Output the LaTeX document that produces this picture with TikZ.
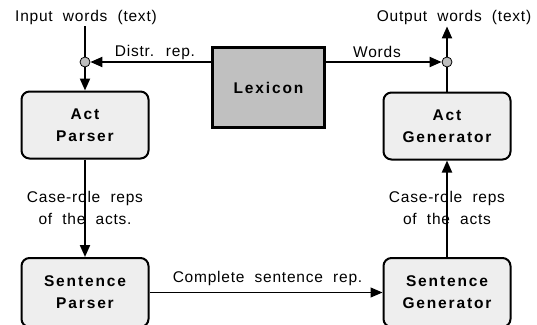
\documentclass[tikz,border=0pt]{standalone}
\usepackage{fontspec}
\setmainfont{Liberation Sans}[LetterSpace=5, WordSpace=2.0]
\newfontfamily\modfont{Liberation Sans}[LetterSpace=12]
\usepackage{tikz}
\usepackage{xcolor}
\usetikzlibrary{shapes.geometric, arrows.meta, positioning, calc}
\definecolor{cModule}{RGB}{238,238,238}
\definecolor{cLexicon}{RGB}{192,192,192}
\definecolor{cDot}{RGB}{190,190,190}
\tikzset{
	module/.style ={rectangle, rounded corners=8pt, minimum width=127pt, minimum height=67pt, text centered, align=center, draw=black, line width=2pt, fill=cModule, font=\modfont\bfseries\fontsize{15.5}{22}\selectfont},
	lexbox/.style ={rectangle, minimum width=112pt, minimum height=80pt, text centered, draw=black, line width=3pt, fill=cLexicon, font=\modfont\bfseries\fontsize{15.5}{22}\selectfont},
	junction/.style={circle, draw=black, line width=0.8pt, fill=cDot, minimum size=10pt, inner sep=0pt},
	lbl/.style     ={align=center, inner sep=2pt, font=\fontsize{15.5}{22}\selectfont},
	flowarrow/.style={-{Triangle[length=12pt, width=10pt]}, line width=2pt},
	thinarrow/.style={-{Triangle[length=12pt, width=10pt]}, line width=1pt},
}
\begin{document}
\begin{tikzpicture}[x=1pt, y=-1pt]
	\useasboundingbox (0,0) rectangle (537,324);
	% modules
	\node[lexbox] (lex) at (268.5,87.5) {Lexicon};
	\node[module] (ap) at (85,125) {Act\\Parser};
	\node[module] (ag) at (447,126) {Act\\Generator};
	\node[module, minimum height=69pt] (sp) at (85,292.5) {Sentence\\Parser};
	\node[module, minimum height=69pt] (sg) at (447,292.5) {Sentence\\Generator};
	% junctions
	\node[junction] (ldot) at (85,62) {};
	\node[junction] (rdot) at (447,62) {};
	% labels
	\node[lbl] (inlabel) at (86,17) {Input words (text)};
	\node[lbl] (outlabel) at (454,17) {Output words (text)};
	\node[lbl] (distrlabel) at (155,52) {Distr. rep.};
	\node[lbl] (wordslabel) at (377,52) {Words};
	\node[lbl] (caseleft) at (85,208) {Case-role reps\\of the acts.};
	\node[lbl] (caseright) at (447,208) {Case-role reps\\of the acts};
	\node[lbl] (complabel) at (267.5,278) {Complete sentence rep.};
	% connectors
	\draw[line width=2pt] (inlabel.south -| ldot) -- (ldot);
	\draw[flowarrow] (lex.west |- ldot) -- (ldot);
	\draw[flowarrow] (ldot) -- (ap);
	\draw[flowarrow] (lex.east |- rdot) -- (rdot);
	\draw[flowarrow] (rdot) -- (outlabel.south -| rdot);
	\draw[line width=2pt] (ag) -- (rdot);
	\draw[flowarrow] (ap) -- (sp);
	\draw[flowarrow] (sg) -- (ag);
	\draw[thinarrow] (sp) -- (sg);
\end{tikzpicture}
\end{document}
